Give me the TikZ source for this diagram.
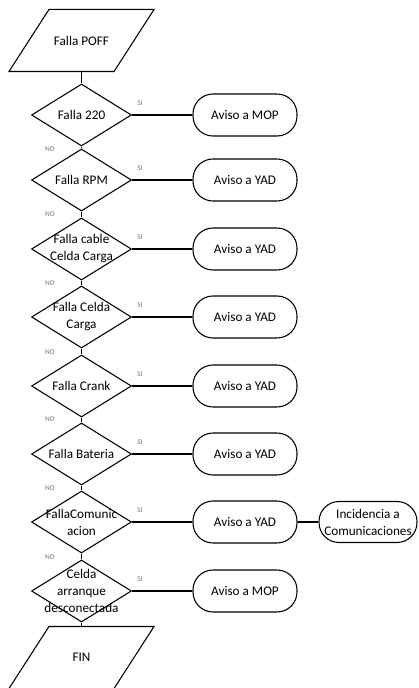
\documentclass[tikz,border=0pt]{standalone}
\usepackage{fontspec}
\setmainfont{Carlito}
\usetikzlibrary{shapes.geometric,positioning}

\tikzset{
  falla/.style={diamond, draw, minimum width=75pt, minimum height=46.5pt, inner sep=0pt},
  aviso/.style={rectangle, draw, rounded corners=15pt, minimum width=78pt, minimum height=31.5pt, align=center},
  entrada/.style={rectangle, minimum width=78pt, minimum height=45.75pt, inner sep=0pt},
  rotulo/.style={font=\fontsize{5.5}{6}\selectfont, text=black!55, inner sep=0pt},
}

\begin{document}
\begin{tikzpicture}[x=0.75pt,y=-0.75pt,line width=0.8pt,
    font=\fontsize{9.9}{12.75}\selectfont]
    \useasboundingbox (0,0) rectangle (418,688);
    % inicio
    \node[entrada] (poff) at (81.5,40.5) {Falla POFF};
    \draw ([xshift=15pt]poff.north west) -- ([xshift=15pt]poff.north east)
        -- ([xshift=-15pt]poff.south east) -- ([xshift=-15pt]poff.south west) -- cycle;
    % decisiones
    \node[falla,label={[align=center]center:Falla 220}] (f220) at (81.5,115) {};
    \node[falla,label={[align=center]center:Falla RPM}] (frpm) at (81.5,180) {};
    \node[falla,label={[align=center]center:Falla cable\\Celda Carga}] (fcable) at (81.5,249) {};
    \node[falla,label={[align=center]center:Falla Celda\\Carga}] (fcelda) at (81.5,317) {};
    \node[falla,label={[align=center]center:Falla Crank}] (fcrank) at (81.5,386) {};
    \node[falla,label={[align=center]center:Falla Bateria}] (fbat) at (81.5,454) {};
    \node[falla,label={[align=center]center:FallaComunic\\acion}] (fcom) at (81.5,522) {};
    \node[falla,label={[align=center]center:Celda\\arranque\\desconectada}] (farr) at (81.5,591) {};
    % fin
    \node[entrada] (fin) at (81.5,657.5) {FIN};
    \draw ([xshift=15pt]fin.north west) -- ([xshift=15pt]fin.north east)
        -- ([xshift=-15pt]fin.south east) -- ([xshift=-15pt]fin.south west) -- cycle;
    % avisos
    \node[aviso] (mop1) at (245,115) {Aviso a MOP};
    \node[aviso] (yad1) at (245,180) {Aviso a YAD};
    \node[aviso] (yad2) at (245,249) {Aviso a YAD};
    \node[aviso] (yad3) at (245,317) {Aviso a YAD};
    \node[aviso] (yad4) at (245,386) {Aviso a YAD};
    \node[aviso] (yad5) at (245,454) {Aviso a YAD};
    \node[aviso] (yad6) at (245,522) {Aviso a YAD};
    \node[aviso] (mop2) at (245,591) {Aviso a MOP};
    \node[aviso,minimum width=73.5pt,minimum height=30.75pt,inner sep=1pt] (inc) at (368,522) {Incidencia a\\Comunicaciones};
    % conexiones
    \draw (poff.south) -- (f220.north);
    \draw (f220.south) -- (frpm.north);
    \draw (frpm.south) -- (fcable.north);
    \draw (fcable.south) -- (fcelda.north);
    \draw (fcelda.south) -- (fcrank.north);
    \draw (fcrank.south) -- (fbat.north);
    \draw (fbat.south) -- (fcom.north);
    \draw (fcom.south) -- (farr.north);
    \draw (farr.south) -- (fin.north);
    \draw (f220.east) -- (mop1.west);
    \draw (frpm.east) -- (yad1.west);
    \draw (fcable.east) -- (yad2.west);
    \draw (fcelda.east) -- (yad3.west);
    \draw (fcrank.east) -- (yad4.west);
    \draw (fbat.east) -- (yad5.west);
    \draw (fcom.east) -- (yad6.west);
    \draw (farr.east) -- (mop2.west);
    \draw (yad6.east) -- (inc.west);
    % etiquetas SI / NO
    \foreach \y in {103,168,237,305,374,442,510,579}
        \node[rotulo] at (140,\y) {SI};
    \foreach \y in {149,214,283,352,419,488,557}
        \node[rotulo] at (50,\y) {NO};
\end{tikzpicture}
\end{document}
